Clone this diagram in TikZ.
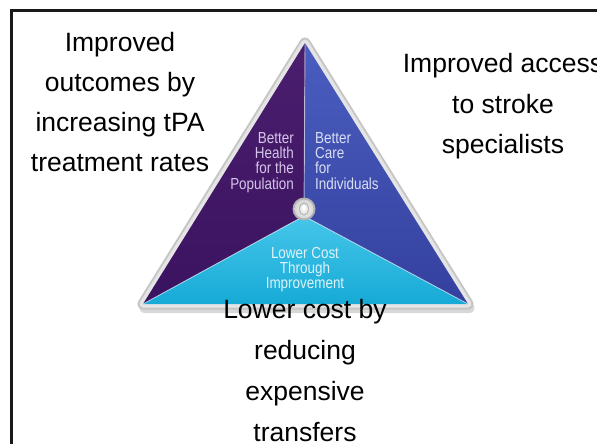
\documentclass[tikz,border=0pt]{standalone}
\usepackage{fontspec}
\newfontfamily\arialsans{Liberation Sans}
\newfontfamily\arialnarrow[FakeStretch=0.84]{Liberation Sans}
\definecolor{purp}{HTML}{4B1E6E}
\definecolor{purpdk}{HTML}{3A1360}
\definecolor{blu}{HTML}{4A5EC0}
\definecolor{bludk}{HTML}{34409E}
\definecolor{cyn}{HTML}{46C6EA}
\definecolor{cyndk}{HTML}{16AAD6}
\definecolor{purptxt}{HTML}{D6C6EA}
\definecolor{blutxt}{HTML}{D8DEF4}
\definecolor{cyntxt}{HTML}{DDF3FA}
\tikzset{
  bigtext/.style={inner sep=0pt, anchor=base, font=\arialsans\fontsize{26.5}{40}\selectfont, text=black},
  smalltext/.style={inner sep=0pt, font=\arialnarrow\fontsize{16}{15.3}\selectfont},
  divline/.style={line width=0.9pt, white, opacity=0.55},
}
\begin{document}
\begin{tikzpicture}[x=1pt,y=-1pt]
\useasboundingbox (0,0) rectangle (597,444);
\fill[white] (0,0) rectangle (597,444);
% frame
\draw[line width=2.6pt, black!90] (11.3,450) -- (11.3,10.3) -- (600,10.3);
% triangle corners
\coordinate (A) at (305,43);
\coordinate (L) at (143,304);
\coordinate (R) at (468,304);
\coordinate (C) at (304,216);
% shadow and silver border
\draw[line width=10pt, line join=round, gray!55, opacity=0.55] ([shift={(1.5,4)}]A) -- ([shift={(1.5,4)}]L) -- ([shift={(1.5,4)}]R) -- cycle;
\draw[line width=11pt, line join=round, gray!45] (A) -- (L) -- (R) -- cycle;
\draw[line width=7pt, line join=round, gray!20] (A) -- (L) -- (R) -- cycle;
% three faces
\shade[top color=purp, bottom color=purpdk] (A) -- (C) -- (L) -- cycle;
\shade[top color=blu, bottom color=bludk] (A) -- (R) -- (C) -- cycle;
\shade[top color=cyn, bottom color=cyndk] (L) -- (C) -- (R) -- cycle;
\draw[divline] (A) -- (C);
\draw[divline] (L) -- (C) -- (R);
% centre knob
\coordinate (K) at (304,209);
\fill[gray!60] (K) circle (11.5);
\shade[inner color=white, outer color=gray!35] (K) circle (9.5);
\draw[gray!55, line width=1.2pt, fill=gray!15] (K) ellipse (4.5 and 6);
\fill[white] ([shift={(0,-1)}]K) ellipse (2 and 3);
% face texts
\node[smalltext, text=purptxt, anchor=base east] (h1) at (294,143.3) {Better};
\node[smalltext, text=purptxt, anchor=base east] (h2) at (294,158.6) {Health};
\node[smalltext, text=purptxt, anchor=base east] (h3) at (294,173.9) {for the};
\node[smalltext, text=purptxt, anchor=base east] (h4) at (294,189.2) {Population};
\node[smalltext, text=blutxt, anchor=base west] (c1) at (315,143.3) {Better};
\node[smalltext, text=blutxt, anchor=base west] (c2) at (315,158.6) {Care};
\node[smalltext, text=blutxt, anchor=base west] (c3) at (315,173.9) {for};
\node[smalltext, text=blutxt, anchor=base west] (c4) at (315,189.2) {Individuals};
\node[smalltext, text=cyntxt, anchor=base] (l1) at (305,258) {Lower Cost};
\node[smalltext, text=cyntxt, anchor=base] (l2) at (305,273.3) {Through};
\node[smalltext, text=cyntxt, anchor=base] (l3) at (305,288.6) {Improvement};
% outer texts
\node[bigtext] (o1) at (120,51.7) {Improved};
\node[bigtext] (o2) at (120,91.7) {outcomes by};
\node[bigtext] (o3) at (120,131.7) {increasing tPA};
\node[bigtext] (o4) at (120,171.7) {treatment rates};
\node[bigtext] (a1) at (503,73) {Improved access};
\node[bigtext] (a2) at (503,113) {to stroke};
\node[bigtext] (a3) at (503,153) {specialists};
\node[bigtext] (b1) at (305,318) {Lower cost by};
\node[bigtext] (b2) at (305,359) {reducing};
\node[bigtext] (b3) at (305,400) {expensive};
\node[bigtext] (b4) at (305,441) {transfers};
\end{tikzpicture}
\end{document}
